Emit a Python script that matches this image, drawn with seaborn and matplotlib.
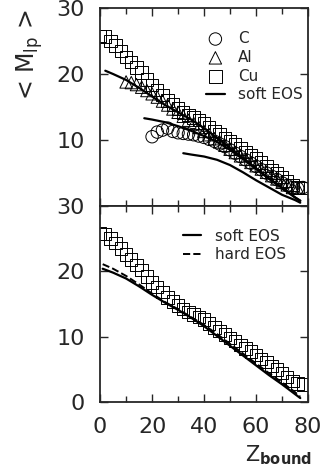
import numpy as np
import pandas as pd
import matplotlib
matplotlib.use("Agg")
import matplotlib.pyplot as plt
from matplotlib.ticker import MultipleLocator
import seaborn as sns

# data
z_cu = [0, 2, 4, 6, 8, 10, 12, 14, 16, 18, 20, 22, 24, 26, 28, 30, 32, 34, 36, 38,
        40, 42, 44, 46, 48, 50, 52, 54, 56, 58, 60, 62, 64, 66, 68, 70, 72, 74, 76, 78]
m_cu = [25.8, 25.7, 25.0, 24.3, 23.5, 22.6, 21.8, 21.0, 20.2, 19.2, 18.3, 17.6, 16.8, 16.0,
        15.4, 14.8, 14.2, 13.8, 13.4, 13.0, 12.6, 12.0, 11.4, 10.9, 10.3, 9.8, 9.3, 8.7,
        8.2, 7.7, 7.2, 6.6, 6.1, 5.5, 5.0, 4.4, 3.8, 3.2, 2.8, 2.7]

z_al = [10, 12, 14, 16, 18, 20, 22, 24, 26, 28, 30, 32, 34, 36, 38, 40, 42, 44, 46, 48,
        50, 52, 54, 56, 58, 60, 62, 64, 66, 68, 70, 72, 74, 76]
m_al = [18.8, 18.7, 18.4, 18.0, 17.5, 17.0, 16.5, 15.9, 15.3, 14.7, 14.2, 13.6, 13.0, 12.5,
        11.9, 11.3, 10.8, 10.2, 9.7, 9.2, 8.6, 8.1, 7.6, 7.1, 6.6, 6.1, 5.6, 5.1, 4.6, 4.1,
        3.6, 3.2, 2.8, 2.7]

z_c = [20, 22, 24, 26, 28, 30, 32, 34, 36, 38, 40, 42, 44, 46, 48, 50, 52, 54, 56, 58,
       60, 62, 64, 66, 68, 70, 72, 74, 76, 78]
m_c = [10.5, 11.2, 11.5, 11.8, 11.3, 11.1, 11.0, 10.9, 10.8, 10.6, 10.4, 10.1, 9.8, 9.4,
       9.0, 8.5, 8.0, 7.5, 7.0, 6.5, 6.0, 5.5, 5.0, 4.5, 4.0, 3.5, 3.1, 2.8, 2.7, 2.8]

# soft EOS curves (top panel, one per target)
z_soft1 = [2, 5, 10, 15, 20, 25, 30, 35, 40, 45, 50, 55, 60, 65, 70, 75, 77]
m_soft1 = [20.5, 20.0, 19.1, 17.9, 16.6, 15.3, 14.2, 13.1, 11.8, 10.3, 8.8, 7.3, 5.7, 4.2, 2.8, 1.3, 0.8]
z_soft2 = [17, 20, 25, 30, 35, 40, 45, 50, 55, 60, 65, 70, 75, 77]
m_soft2 = [13.3, 13.1, 12.7, 12.1, 11.4, 10.6, 9.7, 8.5, 7.1, 5.6, 4.1, 2.7, 1.3, 0.8]
z_soft3 = [32, 35, 40, 45, 50, 55, 60, 65, 70, 75, 77]
m_soft3 = [8.0, 7.8, 7.5, 7.0, 6.2, 5.1, 3.9, 2.8, 1.7, 0.9, 0.5]

# bottom panel, Cu target
z_soft = [1, 5, 10, 15, 20, 25, 30, 35, 40, 45, 50, 55, 60, 65, 70, 75, 77]
m_soft = [20.4, 19.8, 18.9, 17.7, 16.4, 15.2, 14.1, 12.9, 11.6, 10.1, 8.6, 7.1, 5.6, 4.1, 2.7, 1.2, 0.6]
z_hard = [1, 5, 10, 15, 20, 25, 30, 35, 40, 45, 50, 55, 60, 65, 70, 75, 77]
m_hard = [21.1, 20.4, 19.3, 18.0, 16.6, 15.3, 14.2, 13.0, 11.8, 10.4, 8.9, 7.4, 5.9, 4.4, 3.0, 1.5, 0.8]

sns.set_style("ticks")
plt.rcParams['font.family'] = ['DejaVu Sans']
plt.rcParams['mathtext.fontset'] = 'dejavusans'

fig = plt.figure(figsize=(3.26, 4.71), dpi=100)
ax1 = fig.add_axes([0.307, 0.5626, 0.638, 0.4204])
ax2 = fig.add_axes([0.307, 0.1465, 0.638, 0.4161])

mk = dict(facecolor='none', edgecolor='black', linewidth=0.7, s=80)

# top panel
sns.scatterplot(x=z_c, y=m_c, marker='o', label='C', ax=ax1, **mk)
sns.scatterplot(x=z_al, y=m_al, marker='^', label='Al', ax=ax1, **mk)
sns.scatterplot(x=z_cu, y=m_cu, marker='s', label='Cu', ax=ax1, **mk)
sns.lineplot(x=z_soft1, y=m_soft1, color='black', lw=1.6, label='soft EOS', ax=ax1)
sns.lineplot(x=z_soft2, y=m_soft2, color='black', lw=1.6, ax=ax1)
sns.lineplot(x=z_soft3, y=m_soft3, color='black', lw=1.6, ax=ax1)

# bottom panel
sns.scatterplot(x=z_cu, y=m_cu, marker='s', ax=ax2, **mk)
sns.lineplot(x=z_soft, y=m_soft, color='black', lw=1.6, label='soft EOS', ax=ax2)
sns.lineplot(x=z_hard, y=m_hard, color='black', lw=1.4, ls='--', label='hard EOS', ax=ax2)

for ax in (ax1, ax2):
    ax.set_xlim(0, 80)
    ax.set_ylim(0, 30)
    ax.xaxis.set_major_locator(MultipleLocator(20))
    ax.xaxis.set_minor_locator(MultipleLocator(10))
    ax.tick_params(which='both', direction='in', top=True, right=True, width=1.0)
    ax.tick_params(which='major', length=6, labelsize=16, pad=11)
    ax.tick_params(which='minor', length=4)
    for sp in ax.spines.values():
        sp.set_linewidth(1.3)
    ax.set_xlabel('')
    ax.set_ylabel('')

ax1.set_yticks([10, 20, 30])
ax1.tick_params(axis='x', labelbottom=False)
ax2.set_yticks([0, 10, 20, 30])

ax1.legend(loc='upper right', bbox_to_anchor=(1.02, 0.93), frameon=False, fontsize=11,
           handlelength=1.2, handletextpad=0.9, labelspacing=0.25, borderaxespad=0.2)
ax2.legend(loc='upper right', bbox_to_anchor=(0.96, 0.955), frameon=False, fontsize=11,
           handlelength=1.2, handletextpad=0.9, labelspacing=0.25)

fig.text(30 / 326, 1 - 55 / 471, r'< M$_{\mathrm{lp}}$ >', rotation=90,
         fontsize=17, ha='center', va='center')
fig.text(312 / 326, 1 - 455 / 471, r'$\mathrm{Z}_{\mathbf{bound}}$', fontsize=15,
         ha='right', va='center')

fig.savefig('out.png', dpi=100)
